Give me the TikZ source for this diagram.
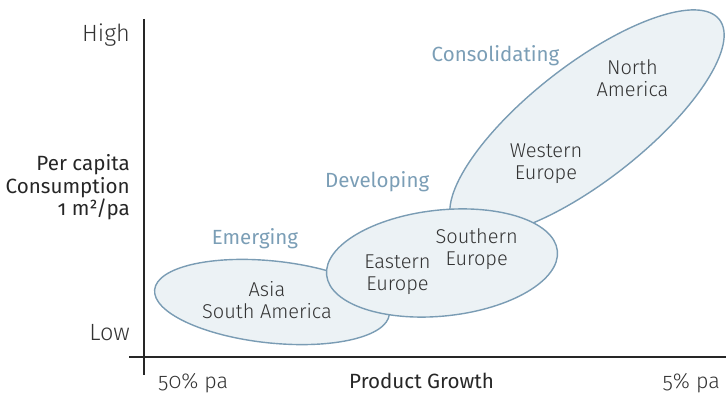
\documentclass[tikz,border=0pt]{standalone}
\usepackage{fontspec}
\setmainfont{Fira Sans Light}[Numbers=OldStyle]
\newfontfamily\regfont{Fira Sans}[Numbers=OldStyle]
\usepackage{tikz}
\definecolor{regionline}{HTML}{7A9CB4}
\definecolor{regionfill}{HTML}{ECF2F5}
\definecolor{stagetext}{HTML}{7B9EB6}
\definecolor{inktext}{HTML}{333333}
\tikzset{
  region/.style={line width=1.4pt, draw=regionline, fill=regionfill},
  place/.style={inner sep=0pt, align=center, text=inktext, font=\fontsize{20}{22}\selectfont},
  stage/.style={inner sep=0pt, text=stagetext, font=\regfont\fontsize{20.5}{22}\selectfont},
  ticktext/.style={inner sep=0pt, text=inktext, font=\fontsize{23.5}{23}\selectfont},
  pcttext/.style={inner sep=0pt, text=inktext, font=\fontsize{21.5}{23}\selectfont},
  axistitle/.style={inner sep=0pt, text=black!85, font=\regfont\fontsize{20.6}{22.7}\selectfont}
}
\begin{document}
\begin{tikzpicture}[x=1pt, y=1pt]
		%%%%% START %%%%%
		\useasboundingbox (0, 0) rectangle (726, 394);
		
		\draw[region, rotate around={-6:(272, 92)}] (272, 92) ellipse (118 and 41);
		\draw[region, rotate around={38:(587, 271)}] (587, 271) ellipse (168 and 58);
		\draw[region, rotate around={6:(442, 131)}] (442, 131) ellipse (116 and 53);
		
		\draw[line width=1.2pt, color=black!85] (144, 375) -- (144, 19);
		\draw[line width=1.2pt, color=black!85] (129, 37) -- (726, 37);
		
		\node[ticktext, anchor=base east] (high) at (130, 352.5) {High};
		\node[axistitle, anchor=base east, align=right] (percapita) at (130, 178) {Per capita\\Consumption\\1 m²/pa};
		\node[ticktext, anchor=base east] (low) at (130, 54) {Low};
		
		\node[pcttext, anchor=base west] (fifty) at (158, 6) {50\% pa};
		\node[axistitle, anchor=base] (growth) at (421.5, 6) {Product Growth};
		\node[pcttext, anchor=base east] (five) at (720, 6) {5\% pa};
		
		\node[stage, anchor=base west] (consolidating) at (431.5, 332.3) {Consolidating};
		\node[stage, anchor=base west] (developing) at (325, 206) {Developing};
		\node[stage, anchor=base west] (emerging) at (211.7, 149) {Emerging};
		
		\node[place, anchor=base] (north) at (632.5, 297.3) {North\\America};
		\node[place, anchor=base] (western) at (546, 214) {Western\\Europe};
		\node[place, anchor=base] (southern) at (476.7, 128) {Southern\\Europe};
		\node[place, anchor=base] (eastern) at (397.5, 103) {Eastern\\Europe};
		\node[place, anchor=base] (asia) at (267, 75) {Asia\\South America};
		
		%%%%% END %%%%%
	\end{tikzpicture}
\end{document}
